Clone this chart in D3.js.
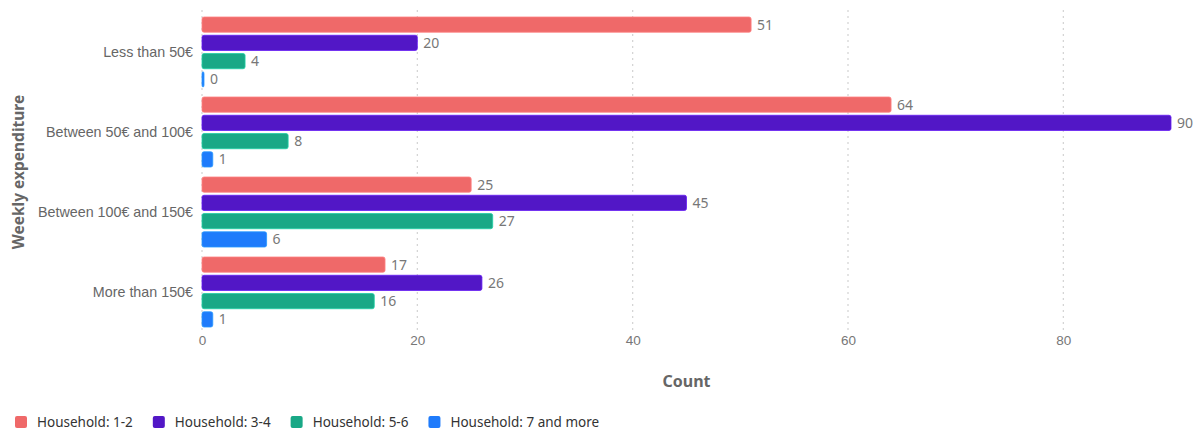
<!DOCTYPE html>
<html>
<head>
<meta charset="utf-8">
<script src="https://cdn.jsdelivr.net/npm/d3@7"></script>
<style>
  html, body { margin: 0; padding: 0; background: #fff; }
  svg { display: block; font-family: "Noto Sans", "Open Sans", sans-serif; }
</style>
</head>
<body>
<svg id="chart" width="1203" height="432"></svg>
<script>
// Weekly expenditure by household size (counts)
const categories = ["Less than 50€", "Between 50€ and 100€", "Between 100€ and 150€", "More than 150€"];
const seriesNames = ["Household: 1-2", "Household: 3-4", "Household: 5-6", "Household: 7 and more"];
const seriesColors = ["#ef6969", "#5217c6", "#19a886", "#1f7bfb"];
const household12 = [51, 64, 25, 17];
const household34 = [20, 90, 45, 26];
const household56 = [4, 8, 27, 16];
const household7plus = [0, 1, 6, 1];
const xTicks = [0, 20, 40, 60, 80];

const seriesValues = [household12, household34, household56, household7plus];

const svg = d3.select("#chart");
const margin = { left: 202, top: 12 };

const x = d3.scaleLinear().domain([0, 90]).range([margin.left, margin.left + 969]);
const y = d3.scaleBand().domain(categories).range([margin.top, 332]).paddingInner(0.125).paddingOuter(0.0625);
const ySub = d3.scaleBand().domain(d3.range(seriesNames.length)).range([0, y.bandwidth()]).paddingInner(0.167);

// dotted gridlines
svg.append("g").selectAll("line").data(xTicks).join("line")
  .attr("x1", d => x(d)).attr("x2", d => x(d))
  .attr("y1", 10).attr("y2", 334)
  .attr("stroke", "#d3d3d3").attr("stroke-width", 1.2)
  .attr("stroke-dasharray", "2,4");

// x tick labels
const xAxis = d3.axisBottom(x).tickValues(xTicks).tickSize(0).tickPadding(0);
const gx = svg.append("g").attr("transform", "translate(0,335)").call(xAxis);
gx.select(".domain").remove();
gx.selectAll("text").attr("fill", "#777").attr("font-size", 13.5).attr("dy", "0.71em").attr("y", 0);

// y category labels
const yAxis = d3.axisLeft(y).tickSize(0).tickPadding(9);
const gy = svg.append("g").attr("transform", `translate(${margin.left},0)`).call(yAxis);
gy.select(".domain").remove();
gy.selectAll("text").attr("fill", "#666").attr("font-size", 14.3);

// grouped bars
const groups = svg.append("g").selectAll("g").data(categories).join("g")
  .attr("transform", d => `translate(0,${y(d)})`);

groups.each(function(cat, ci) {
  const g = d3.select(this);
  seriesValues.forEach((vals, si) => {
    const v = vals[ci];
    const w = Math.max(x(v) - x(0), 2);
    g.append("rect")
      .attr("x", x(0)).attr("y", ySub(si))
      .attr("width", w).attr("height", ySub.bandwidth())
      .attr("rx", 2).attr("ry", 2)
      .attr("fill", seriesColors[si])
      .attr("stroke", d3.color(seriesColors[si]).brighter(0.6)).attr("stroke-width", 0.8);
    g.append("text")
      .attr("x", x(0) + w + 6).attr("y", ySub(si) + ySub.bandwidth() / 2)
      .attr("dy", "0.35em")
      .attr("fill", "#777").attr("font-size", 14)
      .text(v);
  });
});

// axis titles
svg.append("text")
  .attr("x", (x(0) + x(90)) / 2).attr("y", 387)
  .attr("text-anchor", "middle").attr("fill", "#666")
  .attr("font-size", 16).attr("font-weight", "bold")
  .text("Count");

svg.append("text")
  .attr("transform", "translate(24,172) rotate(-90)")
  .attr("text-anchor", "middle").attr("fill", "#666")
  .attr("font-size", 15.5).attr("font-weight", "bold")
  .text("Weekly expenditure");

// legend
const legend = svg.append("g").attr("transform", "translate(15,422)");
let lx = 0;
seriesNames.forEach((name, i) => {
  const item = legend.append("g").attr("transform", `translate(${lx},0)`);
  item.append("rect").attr("x", 0).attr("y", -6).attr("width", 12).attr("height", 12)
    .attr("rx", 2).attr("fill", seriesColors[i]);
  const t = item.append("text").attr("x", 22).attr("y", 0).attr("dy", "0.35em")
    .attr("fill", "#333").attr("font-size", 13.5).text(name);
  lx += 22 + t.node().getComputedTextLength() + 20;
});
</script>
</body>
</html>
